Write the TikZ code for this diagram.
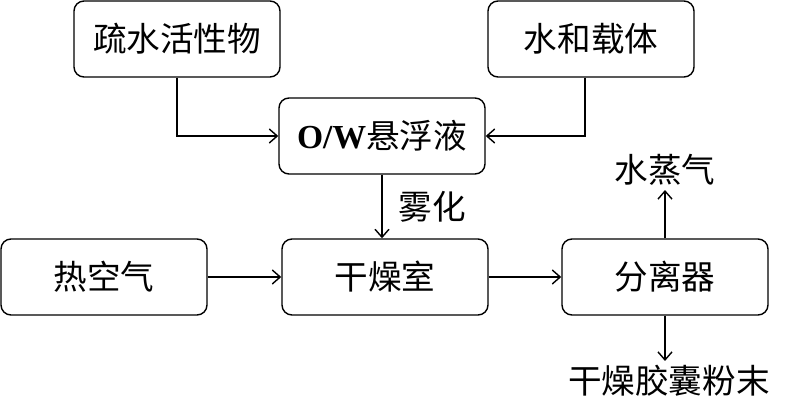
\documentclass[tikz,border=0pt]{standalone}
\usepackage{fontspec}
\setmainfont{Liberation Serif}
\newfontfamily\cjk{Noto Sans CJK SC}
\usetikzlibrary{arrows.meta}

\tikzset{
  procbox/.style={draw, rounded corners=5pt, minimum width=103pt,
    minimum height=38pt, line width=0.7pt, inner sep=0pt,
    font=\cjk\fontsize{16.8}{19}\selectfont},
  outtext/.style={inner sep=2pt, font=\cjk\fontsize{16.8}{19}\selectfont},
  flow/.style={-{Straight Barb[length=4pt,width=7pt]}, line width=0.7pt}
}

\begin{document}
\begin{tikzpicture}[x=0.5pt,y=-0.5pt]
\useasboundingbox (0,0) rectangle (800,407);

% feed materials
\node[procbox] (hydro) at (177,39) {疏水活性物};
\node[procbox] (carrier) at (591,39) {水和载体};
\node[procbox] (emul) at (382,136) {{\rmfamily\bfseries O/W}悬浮液};

% drying line
\node[procbox] (hotair) at (104,277) {热空气};
\node[procbox] (dryer) at (385,277) {干燥室};
\node[procbox] (sep) at (665,277) {分离器};

% products
\node[outtext] (vapor) at (665,170) {水蒸气};
\node[outtext] (powder) at (669,381) {干燥胶囊粉末};

\draw[flow] (hydro.south) |- (emul.west);
\draw[flow] ([xshift=-3pt]carrier.south) |- (emul.east);
\draw[flow] (emul.south) -- (emul.south |- dryer.north)
  node[midway, right, outtext, xshift=6pt] (atom) {雾化};
\draw[flow] (hotair) -- (dryer);
\draw[flow] (dryer) -- (sep);
\draw[flow] (sep.north) -- (sep.north |- vapor.south);
\draw[flow] (sep.south) -- (sep.south |- powder.north);
\end{tikzpicture}
\end{document}
